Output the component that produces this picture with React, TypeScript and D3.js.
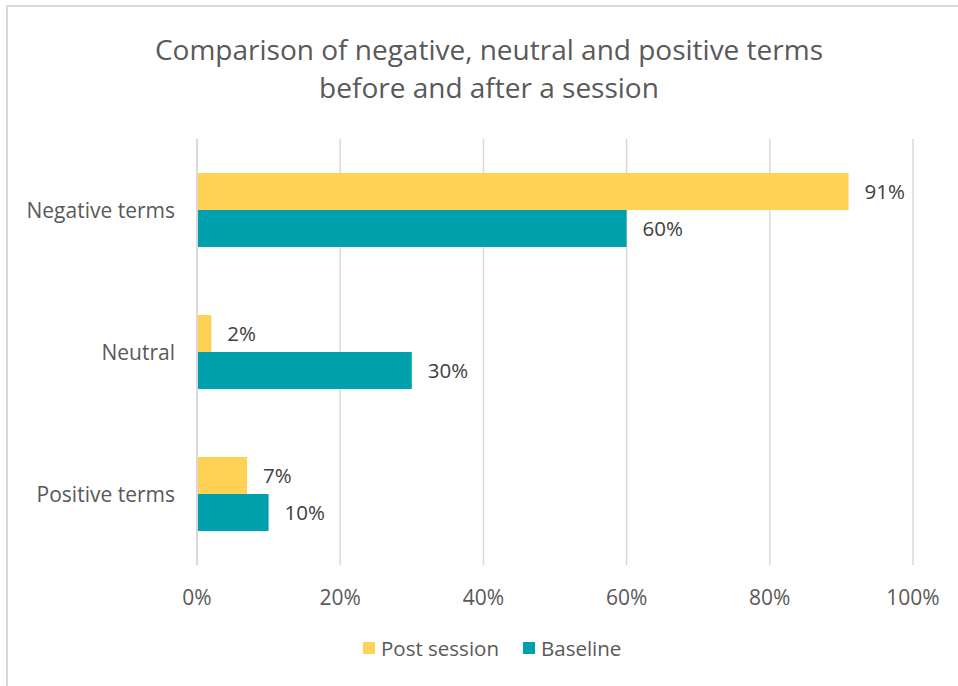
import React from "react";
import * as d3 from "d3";

const categories = ["Negative terms", "Neutral", "Positive terms"];
const seriesNames = ["Post session", "Baseline"];
const postSession = [91, 2, 7];
const baseline = [60, 30, 10];
const xTicks = [0, 20, 40, 60, 80, 100];
const colors = ["#FFD154", "#00A1AE"];
const titleLines = ["Comparison of negative, neutral and positive terms", "before and after a session"];

export default function App() {
  const W = 958, H = 686;
  const x = d3.scaleLinear().domain([0, 100]).range([197, 913]);
  const y = d3.scaleBand().domain(categories).range([139, 565]).paddingInner(0.479).paddingOuter(0.2395);
  const sub = d3.scaleBand().domain(seriesNames).range([0, y.bandwidth()]);
  const series = [postSession, baseline];
  const font = "'Open Sans', sans-serif";
  const legendItems = [
    { name: seriesNames[0], x: 363, color: colors[0] },
    { name: seriesNames[1], x: 523, color: colors[1] },
  ];
  return (
    <svg width={W} height={H} style={{ position: "absolute", left: 0, top: 0, background: "#fff" }} fontFamily={font}>
      <rect x={7} y={6} width={980} height={700} fill="#fff" stroke="#d9d9d9" strokeWidth={2} />
      {titleLines.map((t, i) => (
        <text key={i} x={489} y={60 + i * 38} textAnchor="middle" fontSize={28} fill="#595959">{t}</text>
      ))}
      {xTicks.map((t) => (
        <g key={t}>
          <line x1={x(t)} x2={x(t)} y1={139} y2={565} stroke="#d9d9d9" strokeWidth={t === 0 ? 2 : 1.5} />
          <text x={x(t)} y={605} textAnchor="middle" fontSize={21} fill="#595959">{t}%</text>
        </g>
      ))}
      {categories.map((c, ci) => (
        <g key={c}>
          <text x={175} y={(y(c) as number) + y.bandwidth() / 2 + 8} textAnchor="end" fontSize={21} fill="#595959">{c}</text>
          {series.map((vals, si) => {
            const by = (y(c) as number) + (sub(seriesNames[si]) as number);
            return (
              <g key={si}>
                <rect x={x(0) + 1} y={by} width={x(vals[ci]) - x(0) - 1} height={sub.bandwidth()} fill={colors[si]} />
                <text x={x(vals[ci]) + 16} y={by + sub.bandwidth() / 2 + 7.5} fontSize={20.5} fill="#404040">{vals[ci]}%</text>
              </g>
            );
          })}
        </g>
      ))}
      {legendItems.map((l) => (
        <g key={l.name}>
          <rect x={l.x} y={642} width={12} height={12} fill={l.color} />
          <text x={l.x + 18} y={655.5} fontSize={20.5} fill="#595959">{l.name}</text>
        </g>
      ))}
    </svg>
  );
}
